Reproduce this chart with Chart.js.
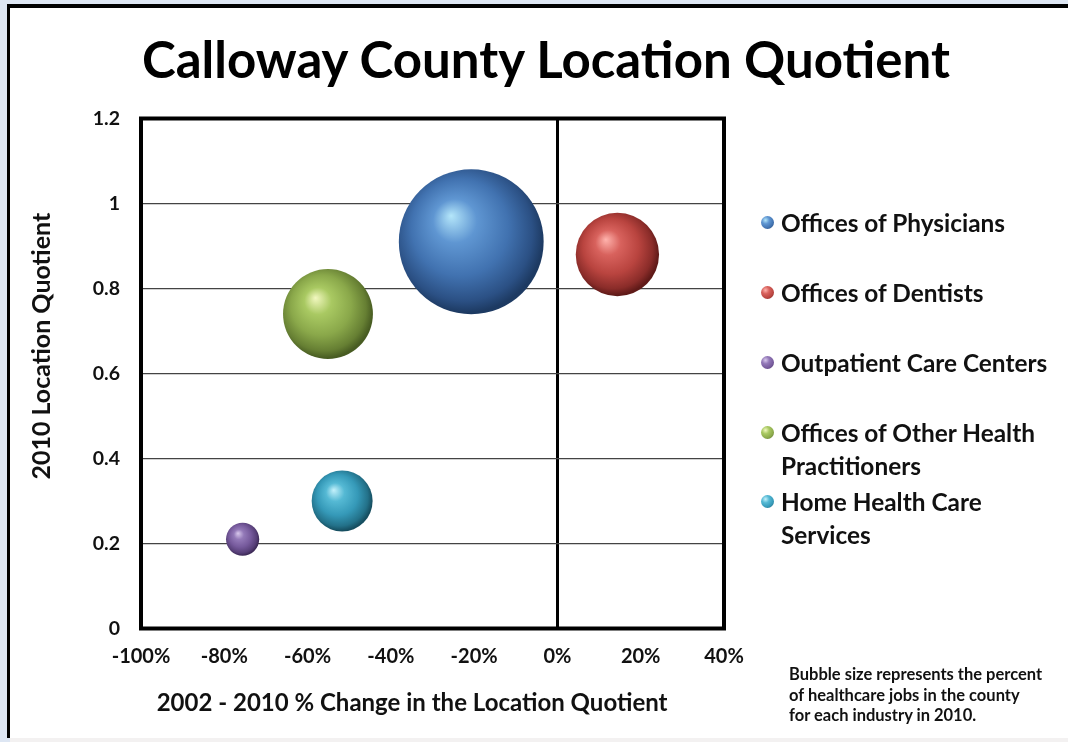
<!DOCTYPE html>
<html>
<head>
<meta charset="utf-8">
<script src="https://cdn.jsdelivr.net/npm/chart.js@4"></script>
<style>
  html, body { margin: 0; padding: 0; }
  body { width: 1068px; height: 742px; position: relative; overflow: hidden; background: #dde6f3; font-family: Lato, "Open Sans", sans-serif; }
  #panel { position: absolute; left: 7px; top: 4px; right: 0; bottom: 4px; background: #fff; border-left: 3px solid #000; border-top: 4px solid #000; }
  #bottomstrip { position: absolute; left: 10px; right: 0; bottom: 0; height: 4px; background: #f3f1f1; }
  #wrap { position: absolute; left: 0; top: 0; width: 1068px; height: 742px; }
  #title { position: absolute; left: 91px; width: 910px; top: 28px; text-align: center; font-weight: 700; font-size: 51px; line-height: 1.2; color: #000; white-space: nowrap; }
  .leg { position: absolute; left: 781px; font-weight: 700; font-size: 24.4px; line-height: 33px; color: #111; white-space: nowrap; }
  .dot { position: absolute; left: -20px; top: 10px; width: 13px; height: 13px; border-radius: 50%; }
  #note { position: absolute; left: 789px; top: 664px; font-weight: 700; font-size: 16.5px; line-height: 20.5px; color: #111; white-space: nowrap; }
</style>
</head>
<body>
<div id="panel"></div>
<div id="bottomstrip"></div>
<div id="wrap"><canvas id="c" width="1068" height="742"></canvas></div>
<div id="title">Calloway County Location Quotient</div>
<div id="legend"></div>
<div id="note">Bubble size represents the percent<br>of healthcare jobs in the county<br>for each industry in 2010.</div>
<script>
// ---- data ----
const seriesNames = ["Offices of Physicians", "Offices of Dentists", "Outpatient Care Centers", "Offices of Other Health Practitioners", "Home Health Care Services"];
const legendLines = [["Offices of Physicians"], ["Offices of Dentists"], ["Outpatient Care Centers"], ["Offices of Other Health", "Practitioners"], ["Home Health Care", "Services"]];
const pctChange = [-20.7, 14.4, -75.6, -55.1, -51.7];      // 2002-2010 % change in LQ
const locationQuotient = [0.91, 0.88, 0.21, 0.74, 0.30];   // 2010 LQ
const jobShare = [51.4, 17.0, 2.7, 19.8, 9.1];             // % of healthcare jobs (bubble size)
const xTicks = [-100, -80, -60, -40, -20, 0, 20, 40];
const xTickLabels = ["-100%", "-80%", "-60%", "-40%", "-20%", "0%", "20%", "40%"];
const yTicks = [0, 0.2, 0.4, 0.6, 0.8, 1, 1.2];
const yTickLabels = ["0", "0.2", "0.4", "0.6", "0.8", "1", "1.2"];
const xTitle = "2002 - 2010 % Change in the Location Quotient";
const yTitle = "2010 Location Quotient";

// ---- styles ----
const sphereColors = [
  ["#b4e6fa", "#5f96d2", "#4172b0", "#2b5084", "#1d3a62"],
  ["#ffb3ad", "#d8625d", "#b9443f", "#8a2c29", "#5f1a18"],
  ["#d8c8ec", "#9379b8", "#765a9c", "#573f78", "#3d2a57"],
  ["#f2f8c0", "#a9c962", "#8aa84a", "#667f33", "#485c22"],
  ["#c4f1fb", "#55b9d4", "#3599b8", "#237189", "#164e60"]
];
const BUBBLE_SCALE = 10.1; // px radius per sqrt(size unit)
// spaces used only to nudge the centred axis titles (x: left, y: up)
const padSpaces = n => ' '.repeat(n);

function sphereFill(c) {
  const i = c.datasetIndex;
  const st = sphereColors[i];
  const chart = c.chart;
  const xs = chart.scales && chart.scales.x, ys = chart.scales && chart.scales.y;
  if (!xs || !ys || !c.raw) return st[2];
  const px = xs.getPixelForValue(c.raw.x), py = ys.getPixelForValue(c.raw.y), r = c.raw.r;
  if (!isFinite(px) || !isFinite(py) || !isFinite(r)) return st[2];
  const g = chart.ctx.createRadialGradient(px - 0.28 * r, py - 0.36 * r, 0, px - 0.08 * r, py - 0.1 * r, 1.08 * r);
  g.addColorStop(0, st[0]);
  g.addColorStop(0.28, st[1]);
  g.addColorStop(0.62, st[2]);
  g.addColorStop(0.88, st[3]);
  g.addColorStop(1, st[4]);
  return g;
}

const datasets = seriesNames.map((name, i) => ({
  label: name,
  data: [{ x: pctChange[i], y: locationQuotient[i], r: BUBBLE_SCALE * Math.sqrt(jobShare[i]) }],
  backgroundColor: sphereFill,
  borderWidth: 0,
  hoverBorderWidth: 0,
  hoverRadius: 0
}));

const framePlugin = {
  id: 'frame',
  beforeDatasetsDraw(chart) {
    const a = chart.chartArea, ctx = chart.ctx;
    ctx.save();
    ctx.strokeStyle = '#000';
    ctx.lineWidth = 4;
    ctx.strokeRect(a.left, a.top, a.right - a.left, a.bottom - a.top);
    ctx.restore();
  }
};

const chart = new Chart(document.getElementById('c'), {
  type: 'bubble',
  data: { datasets },
  plugins: [framePlugin],
  options: {
    responsive: false,
    animation: false,
    events: [],
    layout: { padding: { left: 0, right: 344, top: 118.5, bottom: 0 } },
    plugins: { legend: { display: false }, tooltip: { enabled: false }, title: { display: false } },
    scales: {
      x: {
        type: 'linear', min: -100, max: 40,
        afterBuildTicks: s => { s.ticks = xTicks.map(v => ({ value: v })); },
        afterFit: s => { s.height = 113.5; },
        border: { display: false },
        grid: {
          drawTicks: false,
          color: c => (c.tick && c.tick.value === 0) ? '#000' : 'rgba(0,0,0,0)',
          lineWidth: c => (c.tick && c.tick.value === 0) ? 3 : 0
        },
        ticks: { padding: 16, color: '#111', font: { family: 'Lato', weight: 'bold', size: 20 }, maxRotation: 0,
                 callback: v => { const k = xTicks.indexOf(v); return k >= 0 ? xTickLabels[k] : ''; } },
        title: { display: true, text: xTitle + padSpaces(7), color: '#111', font: { family: 'Lato', weight: 'bold', size: 24 }, padding: { top: 0, bottom: 24 } }
      },
      y: {
        type: 'linear', min: 0, max: 1.2,
        afterBuildTicks: s => { s.ticks = yTicks.map(v => ({ value: v })); },
        afterFit: s => { s.width = 141; },
        border: { display: false },
        grid: {
          drawTicks: false,
          color: c => (c.tick && (c.tick.value === 0 || c.tick.value === 1.2)) ? 'rgba(0,0,0,0)' : '#444',
          lineWidth: 1.3
        },
        ticks: { padding: 21, color: '#111', font: { family: 'Lato', weight: 'bold', size: 19.5 },
                 callback: v => { const k = yTicks.findIndex(t => Math.abs(t - v) < 1e-9); return k >= 0 ? yTickLabels[k] : ''; } },
        title: { display: true, text: padSpaces(9) + yTitle, color: '#111', font: { family: 'Lato', weight: 'bold', size: 25 }, padding: { top: 27, bottom: 0 } }
      }
    }
  }
});
chart.update();

// HTML legend
const legTops = [206, 276, 346, 416, 485];
const dotCss = [
  "radial-gradient(circle at 35% 32%, #b4e6fa 0%, #5f96d2 30%, #4172b0 65%, #1d3a62 100%)",
  "radial-gradient(circle at 35% 32%, #ffb3ad 0%, #d8625d 30%, #b9443f 65%, #5f1a18 100%)",
  "radial-gradient(circle at 35% 32%, #d8c8ec 0%, #9379b8 30%, #765a9c 65%, #3d2a57 100%)",
  "radial-gradient(circle at 35% 32%, #f2f8c0 0%, #a9c962 30%, #8aa84a 65%, #485c22 100%)",
  "radial-gradient(circle at 35% 32%, #c4f1fb 0%, #55b9d4 30%, #3599b8 65%, #164e60 100%)"
];
const legend = document.getElementById('legend');
legendLines.forEach((lines, i) => {
  const d = document.createElement('div');
  d.className = 'leg';
  d.style.top = legTops[i] + 'px';
  d.innerHTML = '<span class="dot" style="background:' + dotCss[i] + '"></span>' + lines.join('<br>');
  legend.appendChild(d);
});
</script>
</body>
</html>
